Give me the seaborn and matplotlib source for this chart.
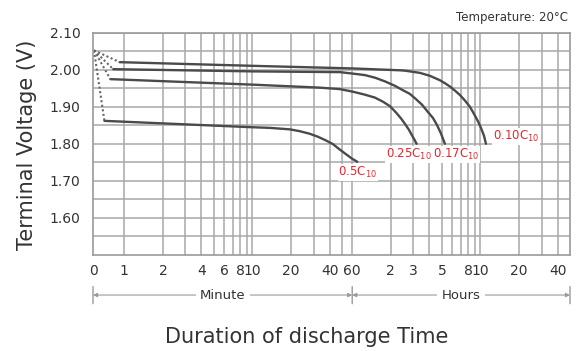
import matplotlib
matplotlib.use("Agg")
import matplotlib.pyplot as plt
import seaborn as sns
import pandas as pd

# ---------------- data (time in minutes, voltage in V) ----------------
rates = ["0.10C", "0.17C", "0.25C", "0.5C"]

t_010 = [0.92, 10.2, 60.7, 141.3, 154.6, 169.1, 185.0, 202.4, 221.4, 242.3, 265.0, 290.0,
         317.2, 347.1, 379.7, 415.4, 454.5, 497.3, 534.3, 574.1, 606.0, 639.5, 663.0]
v_010 = [2.021, 2.011, 2.004, 1.999, 1.998, 1.996, 1.994, 1.992, 1.988, 1.984, 1.978, 1.972,
         1.964, 1.955, 1.944, 1.932, 1.917, 1.900, 1.881, 1.861, 1.843, 1.822, 1.800]

t_017 = [0.82, 10.2, 48.1, 60.7, 75.3, 90.2, 107.9, 129.1, 149.1, 169.1, 188.4, 209.8,
         233.8, 255.7, 274.8, 295.3, 317.2]
v_017 = [2.002, 1.996, 1.994, 1.990, 1.986, 1.979, 1.969, 1.957, 1.945, 1.935, 1.921, 1.906,
         1.886, 1.870, 1.851, 1.828, 1.800]

t_025 = [0.78, 10.2, 33.5, 48.1, 60.7, 75.3, 90.2, 104.1, 118.0, 131.5, 143.9, 154.6,
         166.1, 175.3, 183.4, 190.7]
v_025 = [1.975, 1.960, 1.952, 1.948, 1.941, 1.933, 1.925, 1.914, 1.902, 1.885, 1.869, 1.854,
         1.838, 1.823, 1.811, 1.800]

t_05 = [0.70, 9.5, 13.65, 19.6, 23.4, 28.0, 32.4, 37.4, 42.4, 48.1, 53.5, 59.6, 65.8]
v_05 = [1.862, 1.845, 1.843, 1.839, 1.834, 1.827, 1.819, 1.809, 1.799, 1.784, 1.772, 1.760, 1.751]

start_time = 0.58
start_voltage = 2.053

label_text = [r"0.10C$_{10}$", r"0.17C$_{10}$", r"0.25C$_{10}$", r"0.5C$_{10}$"]
label_t = [1134, 386, 166, 66.4]
label_v = [1.820, 1.771, 1.771, 1.723]

x_min, x_max = 0.57, 3000
x_ticks = [x_min, 1, 2, 4, 6, 8, 10, 20, 40, 60, 120, 180, 300, 480, 600, 1200, 2400]
x_ticklabels = ["0", "1", "2", "4", "6", "8", "10", "20", "40", "60",
                "2", "3", "5", "8", "10", "20", "40"]
x_grid = [1, 2, 3, 4, 5, 6, 7, 8, 9, 10, 20, 30, 40, 50, 60,
          120, 180, 240, 300, 360, 420, 480, 540, 600, 1200, 1800, 2400]
y_ticks = [1.60, 1.70, 1.80, 1.90, 2.00, 2.10]
y_ticklabels = ["1.60", "1.70", "1.80", "1.90", "2.00", "2.10"]
y_grid = [1.55, 1.65, 1.75, 1.85, 1.95, 2.05]

# ---------------- figure ----------------
sns.set_style("white")
plt.rcParams["font.family"] = ["DejaVu Sans"]

W, H = 579, 351
fig = plt.figure(figsize=(W / 100, H / 100), dpi=100)
ax = fig.add_axes([93 / W, (H - 254.5) / H, (570 - 93) / W, (254.5 - 33) / H])

curve_t = [t_010, t_017, t_025, t_05]
curve_v = [v_010, v_017, v_025, v_05]
rows = []
for r, ts, vs in zip(rates, curve_t, curve_v):
    for t, v in zip(ts, vs):
        rows.append({"rate": r, "t": t, "v": v})
df = pd.DataFrame(rows)

dot_rows = []
for r, ts, vs in zip(rates, curve_t, curve_v):
    dot_rows.append({"rate": r, "t": start_time, "v": start_voltage})
    dot_rows.append({"rate": r, "t": ts[0], "v": vs[0]})
df_dot = pd.DataFrame(dot_rows)

ax.set_xscale("log")
line_col = "#4a4a4a"
sns.lineplot(data=df, x="t", y="v", units="rate", estimator=None, sort=False,
             color=line_col, lw=1.7, ax=ax, legend=False)
sns.lineplot(data=df_dot, x="t", y="v", units="rate", estimator=None, sort=False,
             color="#666666", lw=1.5, ax=ax, legend=False, linestyle=(0, (1, 1.2)))

ax.set_xlim(x_min, x_max)
ax.set_ylim(1.50, 2.10)

ax.set_xticks(x_ticks)
ax.set_xticklabels(x_ticklabels)
ax.set_xticks(x_grid, minor=True)
ax.set_xticklabels([], minor=True)
ax.set_yticks(y_ticks)
ax.set_yticklabels(y_ticklabels)
ax.set_yticks(y_grid, minor=True)

grid_col = "#a8a8a8"
ax.grid(False)
for xv in x_grid:
    ax.axvline(xv, color=grid_col, lw=1.1, zorder=0)
for yv in y_ticks + y_grid:
    ax.axhline(yv, color=grid_col, lw=1.1, zorder=0)

ax.tick_params(axis="both", which="both", length=0, labelsize=10, colors="#333333")
ax.tick_params(axis="x", pad=7)
ax.tick_params(axis="y", pad=9)
for s in ax.spines.values():
    s.set_color("#9a9a9a")
    s.set_linewidth(1.2)
ax.set_xlabel("")
ax.set_ylabel("")

red = "#e8262d"
for txt, tt, vv in zip(label_text, label_t, label_v):
    ax.text(tt, vv, txt, color=red, fontsize=8.5, ha="center", va="center",
            bbox=dict(facecolor="white", edgecolor="none", pad=0.6), zorder=5)

# ---- bottom Minute / Hours arrows ----
arr_y = -0.183
arr_col = "#9a9a9a"
for a, b, name in [(x_min, 60, "Minute"), (60, x_max, "Hours")]:
    ax.annotate("", xy=(a, arr_y), xytext=(b, arr_y),
                xycoords=("data", "axes fraction"), textcoords=("data", "axes fraction"),
                arrowprops=dict(arrowstyle="<|-|>", color=arr_col, lw=0.8,
                                mutation_scale=6, shrinkA=0, shrinkB=0),
                annotation_clip=False)
    mid = (a * b) ** 0.5
    ax.annotate(name, xy=(mid, arr_y), xycoords=("data", "axes fraction"),
                ha="center", va="center", fontsize=9.5, color="#333333",
                bbox=dict(facecolor="white", edgecolor="none", pad=3),
                annotation_clip=False)
for xb in [x_min, 60, x_max]:
    ax.annotate("", xy=(xb, -0.145), xytext=(xb, -0.222),
                xycoords=("data", "axes fraction"), textcoords=("data", "axes fraction"),
                arrowprops=dict(arrowstyle="-", color=arr_col, lw=1.0,
                                shrinkA=0, shrinkB=0),
                annotation_clip=False)

fig.text(27 / W, 1 - 145 / H, "Terminal Voltage (V)", rotation=90,
         ha="center", va="center", fontsize=15, color="#333333")
fig.text(307 / W, 1 - 337 / H, "Duration of discharge Time",
         ha="center", va="center", fontsize=15, color="#333333")
fig.text(568 / W, 1 - 17 / H, "Temperature: 20°C",
         ha="right", va="center", fontsize=8.5, color="#333333")

fig.savefig("out.png", dpi=100, facecolor="white")
